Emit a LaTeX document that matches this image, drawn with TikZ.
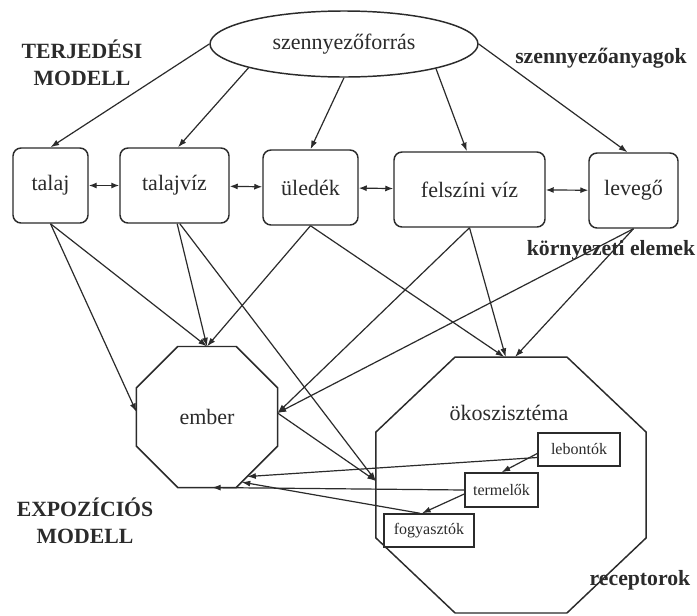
\documentclass[tikz,border=0pt]{standalone}
\usepackage{fontspec}
\setmainfont{Liberation Serif}
\usetikzlibrary{shapes.geometric,arrows.meta}
\definecolor{ink}{HTML}{2B2B2B}
\begin{document}
\begin{tikzpicture}[x=0.75pt,y=-0.75pt,
  every node/.style={text=ink},
  wire/.style={draw=ink, line width=0.9pt},
  flow/.style={wire, -{Latex[length=6.5pt,width=4.5pt]}},
  twoway/.style={wire, {Latex[length=6pt,width=4.5pt]}-{Latex[length=6pt,width=4.5pt]}},
  medium/.style={draw=ink, line width=1.1pt, rounded corners=6pt, minimum height=56.25pt,
    inner sep=0pt, font=\fontsize{16.5}{20}\selectfont},
  part/.style={draw=ink, line width=1.1pt, inner sep=0pt, font=\fontsize{12}{14}\selectfont},
  octa/.style={draw=ink, line width=1.1pt, regular polygon, regular polygon sides=8,
    inner sep=0pt, outer sep=0pt},
  tag/.style={font=\bfseries\fontsize{16.3}{20.5}\selectfont, align=center, inner sep=0pt},
  word/.style={font=\fontsize{16.5}{20}\selectfont, inner sep=0pt}
]
\useasboundingbox[fill=white] (0,0) rectangle (697,615);

% source of pollution
\node[draw=ink, line width=1.1pt, ellipse, minimum width=201pt, minimum height=49.5pt,
  inner sep=0pt, font=\fontsize{16.5}{20}\selectfont] (src) at (344,44) {szennyezőforrás};

% environmental media
\node[medium, minimum width=56.25pt]  (talaj)    at (50.5,185.5)  {talaj};
\node[medium, minimum width=81.75pt]  (talajviz) at (174.5,185.5) {talajvíz};
\node[medium, minimum width=71.25pt]  (uledek)   at (310.5,187.5) {üledék};
\node[medium, minimum width=113.25pt] (felszini) at (469.5,189.5) {felszíni víz};
\node[medium, minimum width=66.75pt]  (levego)   at (633.5,190.5) {levegő};

% receptors
\node[octa, minimum size=114.5pt] (ember) at (207,417) {};
\node[word] (emberlbl) at (207,417) {ember};
\node[octa, minimum size=207.8pt, transform shape, xscale=1.055] (oko) at (511,485) {};
\node[word] (okolbl) at (509,413) {ökoszisztéma};

% parts of the ecosystem
\node[part, minimum width=61.5pt,  minimum height=24.75pt] (lebontok)   at (579,449.5) {lebontók};
\node[part, minimum width=54.75pt, minimum height=25.5pt]  (termelok)   at (501.5,490) {termelők};
\node[part, minimum width=67.5pt,  minimum height=24.75pt] (fogyasztok) at (429,530.5) {fogyasztók};

% labels
\node[tag] (terj)  at (82,63)   {TERJEDÉSI\\MODELL};
\node[tag] (anyag) at (601,58)  {szennyezőanyagok};
\node[tag] (elem)  at (611,250) {környezeti elemek};
\node[tag] (expo)  at (85,521)  {EXPOZÍCIÓS\\MODELL};
\node[tag] (rec)   at (640,580) {receptorok};

% emissions
\draw[flow] (src.west) -- (talaj.north);
\draw[flow] (src.194) -- ([xshift=2.6pt]talajviz.north);
\draw[flow] (src.south) -- (uledek.north);
\draw[flow] (src.345) -- ([xshift=-2pt]felszini.north);
\draw[flow] (src.east) -- ([xshift=-4.5pt]levego.north);

% exchange between media
\draw[twoway] (talaj) -- (talajviz);
\draw[twoway] (talajviz) -- (uledek);
\draw[twoway] (uledek) -- (felszini);
\draw[twoway] (felszini) -- (levego);

% exposure of people
\draw[flow] (talaj.south) -- ([yshift=3.75pt]ember.west);
\draw[flow] (talaj.south) -- (ember.north);
\draw[flow] ([xshift=2pt]talajviz.south) -- (ember.north);
\draw[flow] (uledek.south) -- (ember.north);
\draw[flow] (felszini.south) -- ([yshift=3pt]ember.east);
\draw[flow] (levego.south) -- ([yshift=3pt]ember.east);

% exposure of the ecosystem
\draw[flow] ([xshift=4pt]talajviz.south) -- ([yshift=3pt]oko.west);
\draw[flow] ([yshift=3pt]ember.east) -- ([yshift=3pt]oko.west);
\draw[flow] (uledek.south) -- ([xshift=-5pt]oko.north);
\draw[flow] (felszini.south) -- ([xshift=-4pt]oko.north);
\draw[flow] (levego.south) -- ([xshift=3pt]oko.north);

% food chain
\draw[flow] ([yshift=-3pt]lebontok.west) -- (termelok.north);
\draw[flow] ([yshift=-3pt]termelok.west) -- ([xshift=-5.25pt]fogyasztok.north);
\draw[flow] ([yshift=-6pt]lebontok.west) -- (ember.-56);
\draw[flow] (termelok.west) -- ([xshift=3.75pt]ember.south);
\draw[flow] ([xshift=-6.75pt]fogyasztok.north) -- (ember.-62);
\end{tikzpicture}
\end{document}
